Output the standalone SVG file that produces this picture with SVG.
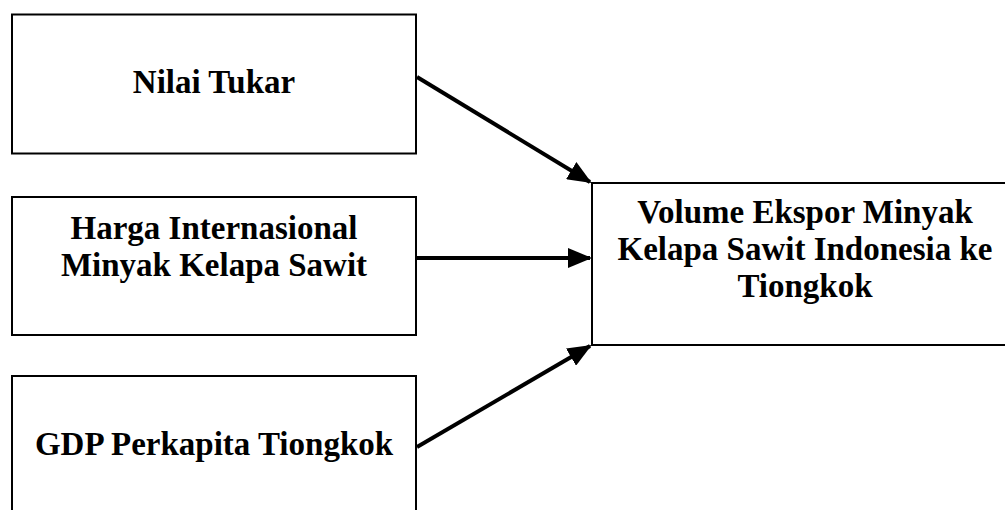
<svg xmlns="http://www.w3.org/2000/svg" width="1005" height="510" viewBox="0 0 1005 510">
<style>
.box{fill:#fff;stroke:#000;stroke-width:2}
.lbl{font-family:"Liberation Serif","Times New Roman",serif;font-weight:bold;font-size:33px;text-anchor:middle;fill:#000}
.conn{stroke:#000;stroke-width:4;fill:none}
</style>
<defs>
<marker id="ah" markerWidth="6" markerHeight="5" refX="5.5" refY="2.5" orient="auto" markerUnits="strokeWidth">
<path d="M0,0 L6,2.5 L0,5 Z" fill="#000"/>
</marker>
</defs>
<rect width="1005" height="510" fill="#fff"/>
<g id="n1">
<rect class="box" x="12" y="14.5" width="404" height="139"/>
<text class="lbl" x="214" y="93">Nilai Tukar</text>
</g>
<g id="n2">
<rect class="box" x="12" y="197" width="404" height="138"/>
<text class="lbl" x="214" y="239">Harga Internasional</text>
<text class="lbl" x="214" y="276">Minyak Kelapa Sawit</text>
</g>
<g id="n3">
<rect class="box" x="12" y="376" width="404" height="160"/>
<text class="lbl" x="214" y="455">GDP Perkapita Tiongkok</text>
</g>
<g id="n4">
<rect class="box" x="592" y="183" width="430" height="162"/>
<text class="lbl" x="805" y="223">Volume Ekspor Minyak</text>
<text class="lbl" x="805" y="260">Kelapa Sawit Indonesia ke</text>
<text class="lbl" x="805" y="297">Tiongkok</text>
</g>
<g id="connectors">
<line class="conn" x1="417" y1="77" x2="590" y2="182" marker-end="url(#ah)"/>
<line class="conn" x1="417" y1="258" x2="590" y2="258" marker-end="url(#ah)"/>
<line class="conn" x1="417" y1="447" x2="590" y2="346" marker-end="url(#ah)"/>
</g>
</svg>
